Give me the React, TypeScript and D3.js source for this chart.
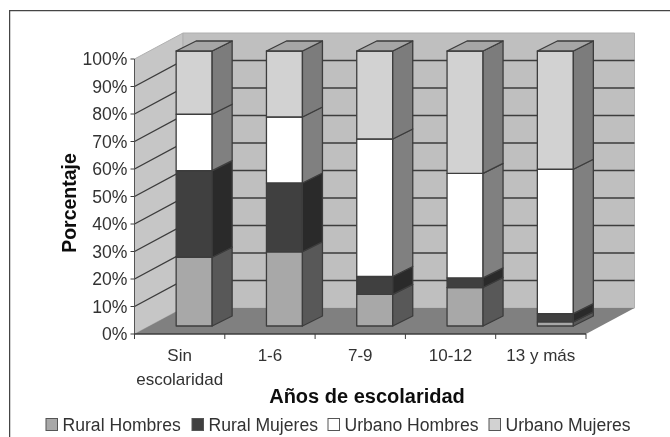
import React from 'react'
import * as d3 from 'd3'

const categories = ['Sin escolaridad', '1-6', '7-9', '10-12', '13 y más']
const ruralHombres = [25, 27, 11.5, 14, 1.5]
const ruralMujeres = [31.5, 25, 6.5, 3.5, 3]
const urbanoHombres = [20.5, 24, 50, 38, 52.5]
const urbanoMujeres = [23, 24, 32, 44.5, 43]
const yTicks = [0, 10, 20, 30, 40, 50, 60, 70, 80, 90, 100]

const seriesNames = ['Rural Hombres', 'Rural Mujeres', 'Urbano Hombres', 'Urbano Mujeres']
const seriesValues = [ruralHombres, ruralMujeres, urbanoHombres, urbanoMujeres]
const frontColors = ['#a8a8a8', '#404040', '#ffffff', '#d2d2d2']
const sideColors = ['#595959', '#2b2b2b', '#808080', '#7c7c7c']

const LINE = '#3c3c3c'
const TEXT = '#333'
const FONT = '"Liberation Sans", Arial, sans-serif'

// 3d offsets, the same for walls and bars
const wallDepth = { x: 48.5, y: -26 }
const barShift = { x: 14.5, y: -8 }
const barDepth = { x: 20, y: -10 }
const barWidth = 36

const x = d3.scaleBand().domain(categories).range([134.5, 586])
const y = d3.scaleLinear().domain([0, 100]).range([334, 59])

const stacks = seriesValues.map((vals, s) =>
  vals.map((v, i) => {
    const base = d3.sum(seriesValues.slice(0, s), d => d[i])
    return [base, base + v]
  })
)

const pts = (list: number[][]) => list.map(p => p.join(',')).join(' ')

export default function App() {
  const x0 = x.range()[0]
  const x1 = x.range()[1]
  const legendX = [46, 192, 328, 489]

  return (
    <svg width={670} height={437} style={{ position: 'absolute', left: 0, top: 0, background: '#fff' }} fontFamily={FONT}>
      <defs>
        <filter id="soft" x="0" y="0" width="100%" height="100%">
          <feGaussianBlur stdDeviation="0.45" />
        </filter>
      </defs>
      <g filter="url(#soft)">
        <path d="M9.5 437V10.5H670" fill="none" stroke="#444" strokeWidth={1.5} />

        {/* walls and floor */}
        <polygon
          points={pts([[x0, y(0)], [x0 + wallDepth.x, y(0) + wallDepth.y], [x0 + wallDepth.x, y(100) + wallDepth.y], [x0, y(100)]])}
          fill="#c6c6c6" stroke="#b0b0b0"
        />
        <polygon
          points={pts([[x0 + wallDepth.x, y(0) + wallDepth.y], [x1 + wallDepth.x, y(0) + wallDepth.y], [x1 + wallDepth.x, y(100) + wallDepth.y], [x0 + wallDepth.x, y(100) + wallDepth.y]])}
          fill="#bfbfbf" stroke="#b0b0b0"
        />
        <polygon
          points={pts([[x0, y(0)], [x1, y(0)], [x1 + wallDepth.x, y(0) + wallDepth.y], [x0 + wallDepth.x, y(0) + wallDepth.y]])}
          fill="#808080"
        />

        {/* grid */}
        {yTicks.slice(1, -1).map(t => (
          <polyline
            key={t}
            points={pts([[x0, y(t)], [x0 + wallDepth.x, y(t) + wallDepth.y], [x1 + wallDepth.x, y(t) + wallDepth.y]])}
            fill="none" stroke={LINE} strokeWidth={1.4}
          />
        ))}

        {/* bars */}
        {categories.map((c, i) => {
          const left = x(c)! + x.bandwidth() / 2 + barShift.x - barWidth / 2
          const right = left + barWidth
          const by = (v: number) => y(v) + barShift.y
          return (
            <g key={c} stroke={LINE} strokeWidth={1.3} strokeLinejoin="round">
              {stacks.map((st, s) => (
                <g key={s}>
                  <rect x={left} y={by(st[i][1])} width={barWidth} height={by(st[i][0]) - by(st[i][1])} fill={frontColors[s]} />
                  <polygon
                    points={pts([
                      [right, by(st[i][0])],
                      [right + barDepth.x, by(st[i][0]) + barDepth.y],
                      [right + barDepth.x, by(st[i][1]) + barDepth.y],
                      [right, by(st[i][1])],
                    ])}
                    fill={sideColors[s]}
                  />
                </g>
              ))}
              <polygon
                points={pts([
                  [left, by(100)],
                  [left + barDepth.x, by(100) + barDepth.y],
                  [right + barDepth.x, by(100) + barDepth.y],
                  [right, by(100)],
                ])}
                fill="#a6a6a6"
              />
            </g>
          )
        })}

        {/* axes */}
        <line x1={x0} x2={x0} y1={y(100)} y2={y(0)} stroke="#555" />
        <line x1={x0} x2={x1} y1={y(0)} y2={y(0)} stroke={LINE} strokeWidth={1.3} />
        {yTicks.map(t => (
          <g key={t}>
            <line x1={x0 - 4} x2={x0} y1={y(t)} y2={y(t)} stroke={LINE} />
            <text x={127.5} y={y(t)} dy="0.36em" textAnchor="end" fontSize={17.6} fill={TEXT}>{t}%</text>
          </g>
        ))}
        {[...categories.map(c => x(c)!), x1].map((t, i) => (
          <line key={i} x1={t} x2={t} y1={y(0)} y2={y(0) + 5} stroke={LINE} />
        ))}
        {categories.map((c, i) => {
          const cx = x(c)! + x.bandwidth() / 2
          if (i === 0) {
            return (
              <text key={c} textAnchor="middle" fontSize={17} fill={TEXT}>
                <tspan x={cx} y={361}>Sin</tspan>
                <tspan x={cx} y={385}>escolaridad</tspan>
              </text>
            )
          }
          return <text key={c} x={cx} y={361} textAnchor="middle" fontSize={17} fill={TEXT}>{c}</text>
        })}

        <text transform="translate(76,203) rotate(-90)" textAnchor="middle" fontSize={19.5} fontWeight="bold" fill="#111">Porcentaje</text>
        <text x={367} y={403} textAnchor="middle" fontSize={20} fontWeight="bold" fill="#111">Años de escolaridad</text>

        {/* legend */}
        {seriesNames.map((name, i) => (
          <g key={name}>
            <rect x={legendX[i]} y={418.5} width={11.5} height={12} fill={frontColors[i]} stroke="#555" />
            <text x={legendX[i] + 16.5} y={431} fontSize={17.6} fill={TEXT}>{name}</text>
          </g>
        ))}
      </g>
    </svg>
  )
}
